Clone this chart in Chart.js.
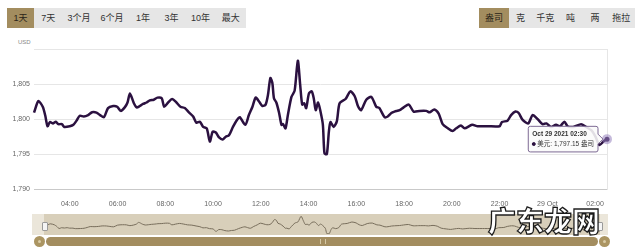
<!DOCTYPE html>
<html>
<head>
<meta charset="utf-8">
<script src="https://cdn.jsdelivr.net/npm/chart.js@4.4.0/dist/chart.umd.min.js"></script>
<style>
  body { margin: 0; width: 640px; height: 250px; overflow: hidden; background: #fff; position: relative;
         font-family: "Liberation Sans", "Noto Sans CJK SC", sans-serif; }
  .group { position: absolute; top: 8px; height: 20px; background: #e6e6e6; }
  .btn { position: absolute; top: 0; height: 20px; line-height: 20px; text-align: center; font-size: 9px; color: #333; }
  .btn.on { background: #a38d5f; color: #2a2418; }
  #usd { position: absolute; left: 18px; top: 39px; font-size: 6px; color: #888; }
  #main { position: absolute; left: 0; top: 0; }
  #nav { position: absolute; left: 0; top: 214px; }
  .navbg { position: absolute; left: 32px; top: 214px; width: 576px; height: 21px; background: #ebe6da; }
  .mask { position: absolute; left: 44px; top: 214px; width: 556px; height: 21px; background: #d8cfba; }
  .handle { position: absolute; top: 222px; width: 4px; height: 7px; background: #f4f4f4; border: 1px solid #9a9a9a; border-radius: 1px; }
  .circ { position: absolute; top: 236px; width: 11px; height: 11px; border-radius: 50%; background: #ab9562; }
  .circ i { position: absolute; left: 4px; top: 4px; width: 3px; height: 3px; border-radius: 50%; background: #d9cca6; }
  .bar { position: absolute; left: 46px; top: 237px; width: 552px; height: 9px; border-radius: 4.5px; background: #a38d5f; }
  .grip { position: absolute; left: 320px; top: 239px; width: 4px; height: 5px;
          border-left: 1px solid #d5c8a4; border-right: 1px solid #d5c8a4; }
  #wm { position: absolute; left: 488px; top: 206px; font-size: 28px; font-weight: 900; line-height: 1;
        font-family: "Noto Sans CJK SC", sans-serif; color: #fff; -webkit-text-stroke: 1.3px #1a1a1a; }
</style>
</head>
<body>
<div class="group" style="left:7px;width:239px">
  <div class="btn on" style="left:0;width:27px">1天</div>
  <div class="btn" style="left:27px;width:28.7px">7天</div>
  <div class="btn" style="left:55.7px;width:32.6px">3个月</div>
  <div class="btn" style="left:88.3px;width:33.2px">6个月</div>
  <div class="btn" style="left:121.5px;width:29px">1年</div>
  <div class="btn" style="left:150.5px;width:28px">3年</div>
  <div class="btn" style="left:178.5px;width:29.8px">10年</div>
  <div class="btn" style="left:208.3px;width:30.7px">最大</div>
</div>
<div class="group" style="left:479px;width:156px">
  <div class="btn on" style="left:0;width:30px">盎司</div>
  <div class="btn" style="left:30px;width:23px">克</div>
  <div class="btn" style="left:53px;width:26.3px">千克</div>
  <div class="btn" style="left:79.3px;width:24.2px">吨</div>
  <div class="btn" style="left:103.5px;width:25px">两</div>
  <div class="btn" style="left:128.5px;width:27.5px">拖拉</div>
</div>
<div id="usd">USD</div>

<div class="navbg"></div>
<div class="mask"></div>
<canvas id="nav" width="640" height="21"></canvas>
<div class="handle" style="left:42px"></div>
<div class="handle" style="left:597px"></div>
<div class="circ" style="left:33.5px"><i></i></div>
<div class="bar"></div>
<div class="grip"></div>
<div class="circ" style="left:599px"><i></i></div>
<div id="wm">广东龙网</div>

<canvas id="main" width="640" height="210"></canvas>

<script>
// gold price, USD per ounce, Oct 28 2021 02:30 -> Oct 29 2021 02:30
const times = [
  '02:30','02:41','02:52','02:58','03:04','03:10','03:18','03:25','03:31','03:40','03:46',
  '04:00','04:09','04:17','04:25','04:35','04:46','04:56','05:07','05:16','05:26','05:36','05:49','05:59',
  '06:08','06:18','06:25','06:31','06:41','06:48','06:56','07:04','07:13','07:21','07:31','07:40','07:51','07:57',
  '08:07','08:17','08:28','08:38','08:49','09:00','09:10','09:18','09:27','09:35','09:44','09:52','09:59',
  '10:07','10:15','10:24','10:32','10:40','10:50','11:00','11:07','11:21','11:30','11:39','11:47','11:56',
  '12:04','12:12','12:18','12:24','12:29','12:33','12:39','12:46','12:52','12:56','13:02','13:08','13:17','13:25','13:33','13:39','13:44','13:49','13:54',
  '14:01','14:08','14:13','14:18','14:24','14:30','14:36','14:40','14:46','14:51','14:55','15:03','15:11','15:18','15:33','15:45','15:56',
  '16:04','16:12','16:25','16:38','16:50','16:58','17:11','17:19','17:28','17:36','17:49','17:59',
  '18:12','18:24','18:39','18:56','19:04','19:16','19:27','19:37','19:50',
  '20:02','20:11','20:23','20:32','20:51','21:05','21:30',
  '22:00','22:06','22:20','22:29','22:40','22:48','22:58','23:12','23:23','23:36','23:48','23:58',
  '00:09','00:22','00:32','00:43','00:51','01:05','01:25','01:37','01:51',
  '02:01','02:11','02:21','02:30'
];
const prices = [
  1800.95,1802.6,1801.8,1800.6,1799.0,1799.6,1799.4,1799.65,1799.3,1799.3,1798.9,
  1799.0,1799.2,1799.8,1800.5,1800.4,1800.6,1801.0,1800.95,1800.6,1800.3,1801.6,1801.9,1801.8,
  1801.2,1801.7,1802.4,1803.7,1802.3,1801.7,1801.9,1802.2,1802.4,1802.7,1802.8,1803.1,1803.0,1801.8,
  1802.4,1802.9,1802.4,1801.8,1801.6,1800.95,1800.4,1799.5,1799.65,1798.9,1798.7,1796.8,1798.2,
  1798.1,1797.4,1797.1,1797.5,1797.7,1798.9,1799.9,1800.3,1799.2,1800.6,1801.8,1803.1,1802.5,
  1801.9,1802.1,1803.5,1805.9,1805.2,1803.0,1802.4,1800.9,1799.2,1799.3,1798.7,1800.6,1803.2,1804.1,1808.4,1804.9,1802.1,1802.3,1801.6,
  1803.7,1804.0,1803.0,1801.3,1802.4,1801.1,1799.2,1795.1,1795.0,1798.2,1799.6,1798.9,1799.7,1802.3,1802.9,1804.0,1803.3,
  1801.9,1801.3,1802.8,1803.2,1801.8,1801.6,1800.3,1800.4,1800.9,1801.1,1801.3,1801.7,
  1802.1,1801.1,1801.2,1801.2,1801.0,1801.4,1800.8,1799.3,1798.7,
  1798.3,1798.7,1799.1,1798.7,1799.2,1799.0,1799.0,
  1799.0,1799.6,1799.8,1800.6,1801.1,1800.9,1799.9,1799.4,1800.6,1800.0,1799.3,1799.4,
  1798.9,1799.2,1799.0,1799.65,1799.0,1798.9,1799.3,1798.9,1798.4,
  1797.5,1796.3,1796.8,1797.15
];
const tickTimes = ['04:00','06:00','08:00','10:00','12:00','14:00','16:00','18:00','20:00','22:00','00:00','02:00'];
const tickLabels = ['04:00','06:00','08:00','10:00','12:00','14:00','16:00','18:00','20:00','22:00','29 Oct','02:00'];

const START = 150; // 02:30 in minutes
function toMinutes(list) {
  let prev = -1;
  return list.map(t => {
    const [h, m] = t.split(':').map(Number);
    let v = h * 60 + m - START;
    while (v < prev) v += 1440;
    prev = v;
    return v;
  });
}
const xs = toMinutes(times);
const tickXs = toMinutes(tickTimes);
const points = xs.map((x, i) => ({ x: x, y: prices[i] }));

function stamp(x) {
  const t = START + x;
  const day = 28 + Math.floor(t / 1440);
  const mm = t % 1440;
  const pad = n => String(n).padStart(2, '0');
  return 'Oct ' + day + ' 2021 ' + pad(Math.floor(mm / 60)) + ':' + pad(mm % 60);
}

const font = '"Liberation Sans", "Noto Sans CJK SC", sans-serif';

const main = new Chart(document.getElementById('main'), {
  type: 'line',
  data: {
    datasets: [{
      label: '美元',
      data: points,
      borderColor: '#2b1140',
      backgroundColor: '#2b1140',
      borderWidth: 2.5,
      tension: 0.25,
      pointRadius: 0,
      pointHoverRadius: 2.5,
      pointHoverBackgroundColor: '#2b1140',
      pointHoverBorderColor: 'rgba(150,130,190,0.55)',
      pointHoverBorderWidth: 5,
      clip: false
    }]
  },
  options: {
    responsive: false,
    animation: false,
    events: [],
    layout: { padding: { top: 49.5, right: 33, left: 0, bottom: 0 } },
    plugins: {
      legend: { display: false },
      tooltip: {
        enabled: true,
        xAlign: 'right',
        yAlign: 'center',
        caretSize: 5,
        caretPadding: 4,
        backgroundColor: 'rgba(250,250,250,0.88)',
        borderColor: '#7d6a94',
        borderWidth: 1,
        cornerRadius: 2,
        padding: { top: 4, bottom: 4, left: 4, right: 4 },
        titleColor: '#333',
        bodyColor: '#333',
        titleFont: { family: font, size: 6.5, weight: 'bold' },
        bodyFont: { family: font, size: 6.5 },
        titleMarginBottom: 2,
        displayColors: true,
        usePointStyle: true,
        boxWidth: 3,
        boxHeight: 3,
        callbacks: {
          title: items => stamp(items[0].parsed.x),
          label: item => item.dataset.label + ': ' +
            item.parsed.y.toLocaleString('en-US', { minimumFractionDigits: 2, maximumFractionDigits: 2 }) + ' 盎司',
          labelColor: () => ({ borderColor: '#2b1140', backgroundColor: '#2b1140' }),
          labelPointStyle: () => ({ pointStyle: 'circle', rotation: 0 })
        }
      }
    },
    scales: {
      x: {
        type: 'linear',
        min: 0,
        max: 1440,
        afterBuildTicks: axis => { axis.ticks = tickXs.map(v => ({ value: v })); },
        afterFit: axis => { axis.height = 21; },
        grid: { display: false },
        border: { display: true, color: '#c9c9c9' },
        ticks: {
          padding: 3,
          maxRotation: 0,
          autoSkip: false,
          color: '#666',
          font: { family: font, size: 7 },
          callback: v => tickLabels[tickXs.indexOf(v)]
        }
      },
      y: {
        min: 1790,
        max: 1810,
        afterFit: axis => { axis.width = 34; },
        grid: { color: '#e6e6e6', drawTicks: false },
        border: { display: false },
        ticks: {
          stepSize: 5,
          padding: 4,
          color: '#666',
          font: { family: font, size: 7 },
          callback: v => v === 1810 ? '' : v.toLocaleString('en-US')
        }
      },
      yRight: {
        position: 'right',
        min: 1790,
        max: 1810,
        afterFit: axis => { axis.width = 0; },
        grid: { display: false },
        border: { display: true, color: '#e6e6e6' },
        ticks: { display: false }
      }
    }
  }
});

const last = points.length - 1;
main.setActiveElements([{ datasetIndex: 0, index: last }]);
main.tooltip.setActiveElements([{ datasetIndex: 0, index: last }], { x: 600, y: 138 });
main.update('none');

new Chart(document.getElementById('nav'), {
  type: 'line',
  data: {
    datasets: [{
      data: points,
      borderColor: '#776d5b',
      borderWidth: 1,
      tension: 0.25,
      pointRadius: 0
    }]
  },
  options: {
    responsive: false,
    animation: false,
    events: [],
    layout: { padding: { top: 2, bottom: 1, left: 46, right: 40 } },
    plugins: { legend: { display: false }, tooltip: { enabled: false } },
    scales: {
      x: { type: 'linear', min: 0, max: 1440, display: false },
      y: { min: 1794.8, max: 1808.6, display: false }
    }
  }
});
</script>
</body>
</html>
